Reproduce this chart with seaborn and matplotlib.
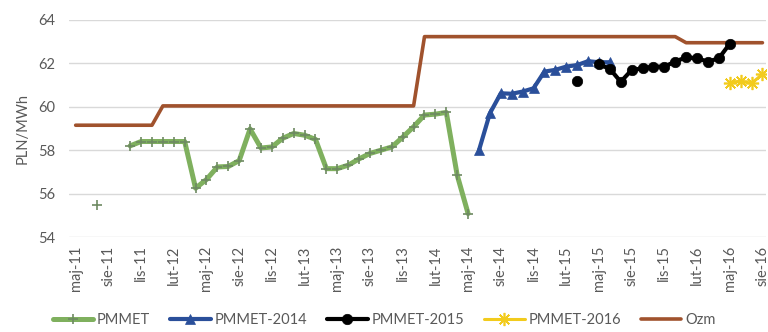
import numpy as np
import pandas as pd
import matplotlib
matplotlib.use("Agg")
import matplotlib.pyplot as plt
from matplotlib.lines import Line2D
import seaborn as sns

# ---------------- data (month index: 0 = maj-11 ... 63 = sie-16) ----------------
n_months = 64
tick_labels = ["maj-11", "sie-11", "lis-11", "lut-12", "maj-12", "sie-12", "lis-12",
               "lut-13", "maj-13", "sie-13", "lis-13", "lut-14", "maj-14", "sie-14",
               "lis-14", "lut-15", "maj-15", "sie-15", "lis-15", "lut-16", "maj-16",
               "sie-16"]

pmmet_idx = [2, 5, 6, 7, 8, 9, 10, 11, 12, 13, 14, 15, 16, 17, 18, 19, 20, 21, 22, 23,
             24, 25, 26, 27, 28, 29, 30, 31, 32, 33, 34, 35, 36]
pmmet_val = [55.46, 58.2, 58.4, 58.4, 58.4, 58.4, 58.4, 56.25, 56.65, 57.23, 57.25,
             57.52, 58.98, 58.1, 58.15, 58.55, 58.77, 58.69, 58.5, 57.15, 57.15, 57.31,
             57.6, 57.85, 58.0, 58.15, 58.6, 59.08, 59.62, 59.66, 59.74, 56.85, 55.08]

pm2014_idx = [37, 38, 39, 40, 41, 42, 43, 44, 45, 46, 47, 48, 49]
pm2014_val = [58.0, 59.7, 60.62, 60.6, 60.7, 60.85, 61.62, 61.7, 61.85, 61.92, 62.1,
              62.05, 62.05]

pm2015_idx = [46, 48, 49, 50, 51, 52, 53, 54, 55, 56, 57, 58, 59, 60]
pm2015_val = [61.2, 61.95, 61.75, 61.15, 61.69, 61.77, 61.85, 61.85, 62.08, 62.28,
              62.23, 62.08, 62.23, 62.9]

pm2016_idx = [60, 61, 62, 63]
pm2016_val = [61.1, 61.18, 61.08, 61.5]

ozm_idx = list(range(0, 64))
ozm_val = [59.15] * 8 + [60.04] * 24 + [63.23] * 24 + [62.95] * 8

# ---------------- styling ----------------
sns.set_theme(style="white")
plt.rcParams["font.family"] = ["Lato", "DejaVu Sans"]
TXT = "#595959"

fig = plt.figure(figsize=(7.68, 3.32), dpi=100)
ax = fig.add_axes([0.09, 0.286, 0.907, 0.654])


def segments(idx, val):
    df = pd.DataFrame({"m": idx, "v": val})
    df["seg"] = (df["m"].diff() != 1).cumsum()
    return df


styles = [
    ("Ozm", ozm_idx, ozm_val, dict(color="#A0522D", lw=2.6, marker=None), 2),
    ("PMMET", pmmet_idx, pmmet_val,
     dict(color="#7FB05E", lw=3.6, marker="+", ms=7, mec="#6E8A62", mew=1.2), 3),
    ("PMMET-2014", pm2014_idx, pm2014_val,
     dict(color="#2A4F9A", lw=3.0, marker="^", ms=7, mec="#2A4F9A", mew=0.5), 4),
    ("PMMET-2015", pm2015_idx, pm2015_val,
     dict(color="#000000", lw=3.0, marker="o", ms=7.5, mec="#000000", mew=0.5), 5),
    ("PMMET-2016", pm2016_idx, pm2016_val,
     dict(color="#F2CB1D", lw=2.2, marker=(8, 2, 0), ms=9.5, mec="#F2CB1D", mew=1.2), 6),
]

handles = {}
for name, idx, val, kw, z in styles:
    df = segments(idx, val)
    kws = dict(kw)
    if kws.get("marker") is None:
        kws.pop("marker")
        kws.pop("ms", None)
        kws["mew"] = 0
    sns.lineplot(data=df, x="m", y="v", units="seg", estimator=None, ax=ax,
                 zorder=z, legend=False, **kws)
    hk = dict(kw)
    handles[name] = Line2D([], [], color=hk["color"], lw=hk["lw"],
                           marker=hk.get("marker"), ms=hk.get("ms", 0),
                           mec=hk.get("mec", hk["color"]), mew=hk.get("mew", 0))

ax.set_xlim(-0.6, 63.3)
ax.set_ylim(54, 64)
ax.set_yticks(np.arange(54, 65, 2))
ax.set_xticks(np.arange(0, 64, 3))
ax.set_xticklabels(tick_labels, rotation=90)
ax.tick_params(axis="both", length=0, labelsize=10.5, colors=TXT)
ax.tick_params(axis="x", pad=6)
ax.tick_params(axis="y", pad=10)
ax.grid(axis="y", color="#D9D9D9", lw=1)
for s in ax.spines.values():
    s.set_visible(False)
ax.set_xlabel("")
ax.set_ylabel("PLN/MWh", fontsize=10.5, color=TXT, labelpad=6)

order = ["PMMET", "PMMET-2014", "PMMET-2015", "PMMET-2016", "Ozm"]
fig.legend([handles[k] for k in order], order, loc="center",
           bbox_to_anchor=(0.5, 0.035), ncol=5, frameon=False, fontsize=10.5,
           handlelength=2.8, handletextpad=0.25, columnspacing=1.35,
           numpoints=1, labelcolor=TXT)

fig.savefig("out.png", dpi=100)
